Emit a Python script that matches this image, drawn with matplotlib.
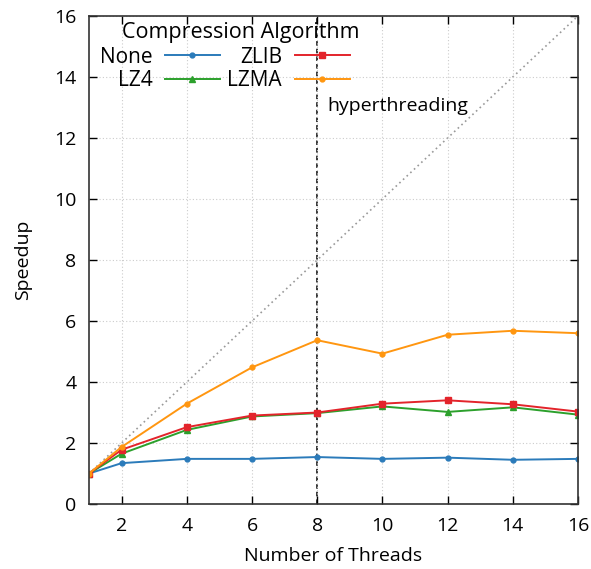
import matplotlib
matplotlib.use('Agg')
import matplotlib.pyplot as plt
import numpy as np

plt.rcParams['font.family'] = ['Open Sans', 'DejaVu Sans']
plt.rcParams['font.size'] = 14

threads = [1, 2, 4, 6, 8, 10, 12, 14, 16]
none_speedup = [1.0, 1.34, 1.48, 1.48, 1.54, 1.48, 1.52, 1.45, 1.48]
lz4_speedup = [1.0, 1.65, 2.43, 2.87, 2.98, 3.20, 3.02, 3.17, 2.93]
zlib_speedup = [1.0, 1.78, 2.52, 2.90, 3.00, 3.29, 3.40, 3.27, 3.03]
lzma_speedup = [1.0, 1.87, 3.29, 4.48, 5.37, 4.93, 5.55, 5.68, 5.60]
ideal = [1, 16]
ht_threads = 8

fig = plt.figure(figsize=(5.91, 5.69), dpi=100)
ax = fig.add_axes([0.1506, 0.1142, 0.8274, 0.8577])

ax.plot(ideal, ideal, color='#999999', ls=(0, (1, 2)), lw=1.2, zorder=1)
ax.axvline(ht_threads, color='black', ls=(0, (3, 2)), lw=1.1, zorder=1)

ax.plot(threads, none_speedup, color='#2b7bba', marker='o', ms=3.5, lw=1.4, label='None')
ax.plot(threads, lz4_speedup, color='#2ca02c', marker='^', ms=4.5, lw=1.4, label='LZ4')
ax.plot(threads, zlib_speedup, color='#e3242b', marker='s', ms=5, lw=1.4, label='ZLIB')
ax.plot(threads, lzma_speedup, color='#ff9610', marker='o', ms=3.5, lw=1.4, label='LZMA')

ax.text(8.3, 13.05, 'hyperthreading', va='center', ha='left')

ax.set_xlim(1, 16)
ax.set_ylim(0, 16)
ax.set_xticks(np.arange(2, 17, 2))
ax.set_yticks(np.arange(0, 17, 2))
ax.grid(True, color='#cccccc', ls=(0, (1, 2)), lw=0.8)
ax.tick_params(direction='in', top=True, right=True, length=6, width=1, pad=9)
for s in ax.spines.values():
    s.set_linewidth(1.2)
    s.set_color('#333333')

ax.set_xlabel('Number of Threads', labelpad=9)
ax.set_ylabel('Speedup', labelpad=16)

# legend title drawn on its own (gnuplot puts it off-centre)
ax.text(0.311, 0.967, 'Compression Algorithm', transform=ax.transAxes,
        ha='center', va='center', fontsize=15.5)
leg = ax.legend(loc='upper left', bbox_to_anchor=(0.022, 0.937), ncol=2,
                markerfirst=False, frameon=False, fontsize=15,
                handlelength=2.65, columnspacing=0.35,
                labelspacing=0.1, borderaxespad=0, borderpad=0,
                handletextpad=0.6)
for t in leg.get_texts():
    t.set_ha('right')

fig.savefig('out.png', dpi=100)
